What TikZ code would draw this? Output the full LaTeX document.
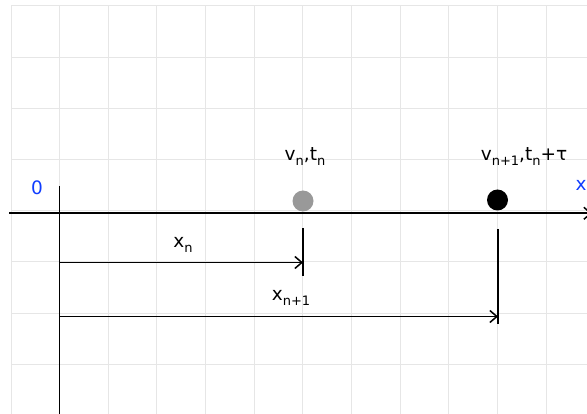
\documentclass[tikz,border=0pt]{standalone}
\usepackage{fontspec}
\setmainfont{DejaVu Sans}
\usetikzlibrary{arrows.meta}
\newcommand{\sbx}[1]{\raisebox{-0.45ex}{\fontsize{13}{13}\selectfont #1}}
\definecolor{gridc}{HTML}{E6E6E6}
\definecolor{dotgray}{HTML}{999999}
\definecolor{axblue}{HTML}{0F3CFF}
\tikzset{
  gridline/.style={draw=gridc, line width=1pt},
  axisline/.style={draw=black, line width=1.6pt},
  meas/.style={draw=black, line width=1.6pt, -{Straight Barb[length=7pt,width=12pt,line width=1.5pt]}},
  tickline/.style={draw=black, line width=1.7pt},
  lbl/.style={font=\fontsize{18.5}{18.5}\selectfont, inner sep=0pt, anchor=base},
  dot/.style={circle, inner sep=0pt, minimum size=21pt},
}
\begin{document}
\begin{tikzpicture}[x=1pt,y=-1pt]
\useasboundingbox (0,0) rectangle (587,414);
% grid
\foreach \i in {0,...,11} \draw[gridline] ({11+48.66*\i},6) -- ({11+48.66*\i},414);
\foreach \j in {0,...,7} \draw[gridline] (11,{6+51.2*\j}) -- (587,{6+51.2*\j});
% axes
\coordinate (hx0) at (9,213.3);
\coordinate (hx1) at (592,213.3);
\coordinate (vy0) at (59.5,186);
\coordinate (vy1) at (59.5,414);
\draw[axisline, -{Straight Barb[length=7pt,width=12pt,line width=1.5pt]}] (hx0) -- (hx1);
\draw[axisline] (vy0) -- (vy1);
\node[lbl, text=axblue] (zero) at (37,195) {0};
\node[lbl, text=axblue] (xlab) at (581,191) {x};
% dots
\node[dot, fill=dotgray] (pn) at (303,201) {};
\node[dot, fill=black] (pn1) at (497.5,200) {};
\node[lbl] (vn) at (305,161) {v\sbx{n},t\sbx{n}};
\node[lbl] (vn1) at (524,161) {v\sbx{n+1},t\sbx{n}+τ};
% ticks
\coordinate (t1a) at (303,228);
\coordinate (t1b) at (303,276);
\coordinate (t2a) at (498,229);
\coordinate (t2b) at (498,324);
\draw[tickline] (t1a) -- (t1b);
\draw[tickline] (t2a) -- (t2b);
% measure arrows
\coordinate (m1a) at (59.5,262.5);
\coordinate (m1b) at (303,262.5);
\coordinate (m2a) at (59.5,316.5);
\coordinate (m2b) at (498,316.5);
\draw[meas] (m1a) -- (m1b);
\draw[meas] (m2a) -- (m2b);
\node[lbl] (xn) at (183,248) {x\sbx{n}};
\node[lbl] (xn1) at (291,301) {x\sbx{n+1}};
\end{tikzpicture}
\end{document}
